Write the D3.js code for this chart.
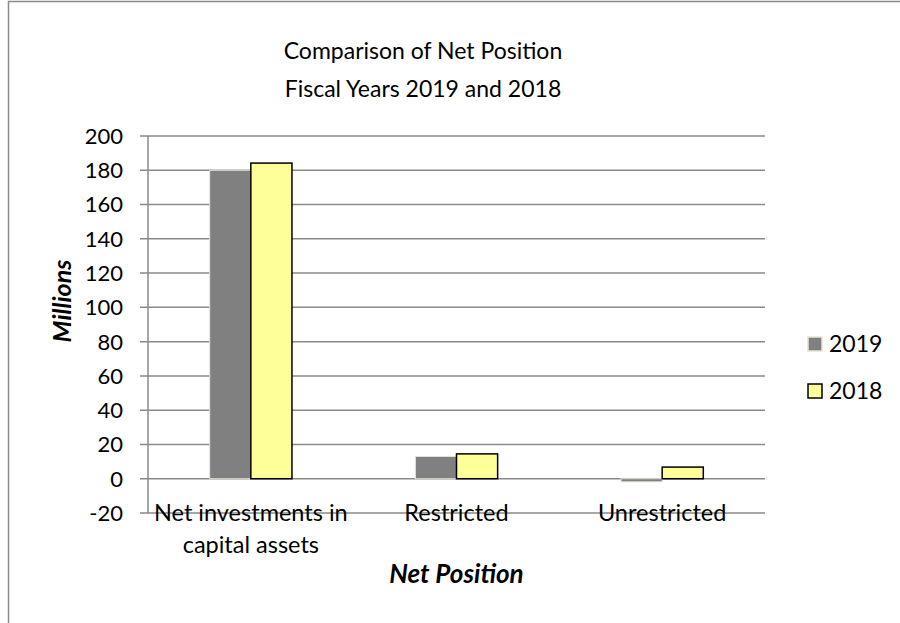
<!DOCTYPE html>
<html>
<head>
<meta charset="utf-8">
<script src="https://cdn.jsdelivr.net/npm/d3@7"></script>
<style>
  body { margin: 0; background: #fff; }
  text { font-family: Lato, "Open Sans", sans-serif; fill: #000; }
</style>
</head>
<body>
<div id="chart"></div>
<script>
(function () {

  // data (millions)
  const categories = ["Net investments in capital assets", "Restricted", "Unrestricted"]
  const categoryLines = [["Net investments in", "capital assets"], ["Restricted"], ["Unrestricted"]]
  const series = ["2019", "2018"]
  const values2019 = [180, 13, -1.8]
  const values2018 = [184.2, 14.5, 6.8]
  const yTicks = [-20, 0, 20, 40, 60, 80, 100, 120, 140, 160, 180, 200]

  const colors = { "2019": "#808080", "2018": "#ffff99" }
  const strokes = { "2019": "#e6e3d6", "2018": "#000000" }

  const W = 900, H = 623
  const margin = { top: 136, right: 135, bottom: 110, left: 148 }
  const width = W - margin.left - margin.right
  const height = H - margin.top - margin.bottom

  const svgRoot = d3.select("#chart").append("svg")
    .attr("width", W)
    .attr("height", H)

  // outer chart border
  svgRoot.append("rect")
    .attr("x", 8.5).attr("y", 1.5)
    .attr("width", W).attr("height", H)
    .attr("fill", "none")
    .attr("stroke", "#8a8a8a")
    .attr("stroke-width", 1.5)

  // title
  const title = svgRoot.append("text")
    .attr("text-anchor", "middle")
    .attr("font-size", 23)
  title.append("tspan").attr("x", 423).attr("y", 59).text("Comparison of Net Position")
  title.append("tspan").attr("x", 423).attr("y", 97).text("Fiscal Years 2019 and 2018")

  const svg = svgRoot.append("g")
    .attr("transform", "translate(" + margin.left + "," + margin.top + ")")

  const yScale = d3.scaleLinear()
    .domain([-20, 200])
    .range([height, 0])

  const x0 = d3.scaleBand()
    .domain(categories)
    .range([0, width])

  const x1 = d3.scaleBand()
    .domain(series)
    .range([x0.bandwidth() * 0.3, x0.bandwidth() * 0.7])

  // gridlines
  svg.selectAll(".grid")
    .data(yTicks)
    .join("line")
    .attr("class", "grid")
    .attr("x1", -8)
    .attr("x2", width)
    .attr("y1", d => yScale(d))
    .attr("y2", d => yScale(d))
    .attr("stroke", "#8a8a8a")
    .attr("stroke-width", 1.5)

  // y axis line
  svg.append("line")
    .attr("x1", 0).attr("x2", 0)
    .attr("y1", 0).attr("y2", height)
    .attr("stroke", "#8a8a8a")
    .attr("stroke-width", 1.5)

  // y tick labels
  svg.selectAll(".ylab")
    .data(yTicks)
    .join("text")
    .attr("class", "ylab")
    .attr("x", -25)
    .attr("y", d => yScale(d))
    .attr("dy", "0.36em")
    .attr("text-anchor", "end")
    .attr("font-size", 22)
    .text(d => d)

  // bars
  const rows = categories.map((c, i) => ({ category: c, "2019": values2019[i], "2018": values2018[i] }))

  svg.selectAll(".grp")
    .data(rows)
    .join("g")
    .attr("class", "grp")
    .attr("transform", d => "translate(" + x0(d.category) + ",0)")
    .selectAll("rect")
    .data(d => series.map(s => ({ key: s, value: d[s] })))
    .join("rect")
    .attr("x", d => x1(d.key))
    .attr("width", x1.bandwidth())
    .attr("y", d => yScale(Math.max(0, d.value)))
    .attr("height", d => Math.abs(yScale(d.value) - yScale(0)))
    .attr("fill", d => colors[d.key])
    .attr("stroke", d => strokes[d.key])
    .attr("stroke-width", d => d.key === "2018" ? 1.5 : 1)

  // category labels
  svg.selectAll(".xlab")
    .data(categories)
    .join("text")
    .attr("class", "xlab")
    .attr("text-anchor", "middle")
    .attr("font-size", 23.5)
    .attr("transform", d => "translate(" + (x0(d) + x0.bandwidth() / 2) + "," + (height + 8) + ")")
    .selectAll("tspan")
    .data((d, i) => categoryLines[i])
    .join("tspan")
    .attr("x", 0)
    .attr("y", (d, i) => i * 32)
    .text(d => d)

  // axis titles
  svg.append("text")
    .attr("text-anchor", "middle")
    .attr("font-size", 26)
    .attr("font-weight", "bold")
    .attr("font-style", "italic")
    .attr("x", width / 2)
    .attr("y", height + 70)
    .text("Net Position")

  svg.append("text")
    .attr("text-anchor", "middle")
    .attr("font-size", 25)
    .attr("font-weight", "bold")
    .attr("font-style", "italic")
    .attr("transform", "translate(" + (-77) + "," + 165 + ") rotate(-90)")
    .text("Millions")

  // legend
  const legend = svgRoot.selectAll(".leg")
    .data(series)
    .join("g")
    .attr("class", "leg")
    .attr("transform", (d, i) => "translate(808," + (337 + i * 47) + ")")

  legend.append("rect")
    .attr("width", 14).attr("height", 14)
    .attr("fill", d => colors[d])
    .attr("stroke", d => strokes[d])
    .attr("stroke-width", 1.5)

  legend.append("text")
    .attr("x", 21)
    .attr("y", 7)
    .attr("dy", "0.36em")
    .attr("font-size", 23)
    .text(d => d)

})();
</script>
</body>
</html>
